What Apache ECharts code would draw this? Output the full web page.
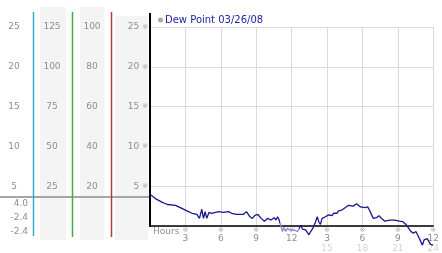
<!DOCTYPE html>
<html><head><meta charset="utf-8">
<script src="https://cdn.jsdelivr.net/npm/echarts@6/dist/echarts.min.js"></script>
<style>html,body{margin:0;padding:0;background:#fff}#c{width:442px;height:253px}</style>
</head><body><div id="c"></div>
<script>
const seriesName = 'Dew Point 03/26/08';
const hourTicks = [3, 6, 9, 12, 15, 18, 21, 24];
const hours = [0,0.5,1.0,1.47,2.17,3.0,3.56,3.97,4.19,4.39,4.53,4.67,4.81,5.0,5.22,5.36,5.83,6.22,6.64,6.92,7.33,7.89,8.17,8.44,8.67,8.86,9.14,9.42,9.69,9.97,10.25,10.53,10.67,10.81,10.94,11.08,11.22,11.36,11.5,11.64,11.83,11.94,12.22,12.5,12.78,12.92,13.19,13.47,13.61,13.83,14.03,14.17,14.31,14.44,14.58,14.72,14.86,15.0,15.14,15.42,15.56,15.83,15.97,16.25,16.53,16.81,16.94,17.22,17.5,17.64,17.83,17.94,18.22,18.44,18.56,18.78,18.92,19.06,19.19,19.39,19.56,19.67,19.89,20.03,20.31,20.72,21.14,21.42,21.69,21.83,22.11,22.33,22.53,22.67,22.81,23.08,23.22,23.5,23.64,23.78,23.92,24.0];
const dewPoint = [4.0,3.4,3.0,2.7,2.6,2.0,1.6,1.45,0.96,2.1,0.96,1.8,0.96,1.7,1.6,1.8,1.8,1.7,1.8,1.6,1.45,1.45,1.8,1.2,0.96,1.3,1.45,0.96,0.6,0.96,0.75,1.04,0.75,1.16,0.75,0.1,-0.7,-0.2,-0.7,-0.3,-0.5,-0.7,-0.5,-0.7,0.1,-0.4,-0.5,-1.1,-0.7,-0.2,0.54,1.16,0.5,0.2,0.96,0.75,1.16,1.04,1.4,1.3,1.6,1.6,1.9,2.0,2.3,2.6,2.4,2.5,2.8,2.6,2.4,2.2,2.3,2.4,2.1,1.4,0.96,1.16,1.04,1.3,1.04,1.16,0.6,0.75,0.75,0.75,0.6,0.54,0.2,0.04,-0.7,-0.9,-0.7,-1.1,-1.3,-2.4,-1.75,-1.6,-2.0,-2.3,-2.2,-2.4];
const col2Factor = 5, col3Factor = 4;

const data = hours.map((h, i) => [h, dewPoint[i]]);
const firstVal = dewPoint[0], minVal = Math.min(...dewPoint), lastVal = dewPoint[dewPoint.length - 1];
const FONT = 'DejaVu Sans';
const GRAY = '#8e8e8e';
const NAVY = '#17178f';

const chart = echarts.init(document.getElementById('c'), null, {renderer: 'canvas'});
const sideAxis = (offset, factor) => ({
  type: 'value', min: 0, max: 25, interval: 5, position: 'left', offset: offset,
  axisLine: {show: false}, axisTick: {show: false}, splitLine: {show: false},
  axisLabel: {margin: 0, align: 'center', color: GRAY, fontFamily: FONT, fontSize: 9,
    formatter: v => v === 0 ? '' : String(v * factor)}
});
chart.setOption({
  animation: false,
  textStyle: {fontFamily: FONT},
  grid: {left: 150, right: 4, top: 27, bottom: 27, containLabel: false},
  legend: {
    left: 158, top: 15, padding: 0, icon: 'circle', itemWidth: 5, itemHeight: 5,
    data: [{name: seriesName, itemStyle: {color: '#a8a8a8'}}],
    textStyle: {color: '#1c1ca0', fontSize: 10, fontFamily: FONT, padding: [0, 0, 0, -3]}
  },
  xAxis: {
    type: 'value', min: 0, max: 24, interval: 3,
    axisLine: {lineStyle: {color: '#000', width: 1.5}},
    axisTick: {show: false},
    splitLine: {lineStyle: {color: '#dadada', width: 1}},
    axisLabel: {
      margin: 1, color: GRAY, fontFamily: FONT, fontSize: 9,
      formatter: v => {
        if (v === 0 || hourTicks.indexOf(v) < 0) return '';
        const d = ((v - 1) % 12) + 1;
        let s = '{m|※}\n{a|' + d + '}';
        if (v > 12) s += '\n{b|' + v + '}';
        return s;
      },
      rich: {
        m: {fontSize: 7, color: '#a8a8a8', lineHeight: 7, fontFamily: FONT},
        a: {fontSize: 9, color: GRAY, lineHeight: 10, fontFamily: FONT},
        b: {fontSize: 9, color: '#d2d2d2', lineHeight: 9, fontFamily: FONT}
      }
    }
  },
  yAxis: [
    {
      type: 'value', min: 0, max: 25, interval: 5,
      axisLine: {show: true, lineStyle: {color: '#000', width: 2}},
      axisTick: {show: false},
      splitLine: {lineStyle: {color: '#dadada', width: 1}},
      axisLabel: {
        margin: 2, color: GRAY, fontFamily: FONT, fontSize: 9,
        formatter: v => v === 0 ? '' : '{v|' + v + '} {m|※}',
        rich: {v: {fontSize: 9, color: GRAY, fontFamily: FONT}, m: {fontSize: 7, color: '#a8a8a8', fontFamily: FONT}}
      }
    },
    sideAxis(136, 1),
    sideAxis(98, col2Factor),
    sideAxis(58, col3Factor)
  ],
  visualMap: {
    type: 'piecewise', show: false, dimension: 0, seriesIndex: 0,
    pieces: [{lt: 11.05, color: NAVY}, {gte: 11.05, lt: 12.65, color: '#8a8ad0'}, {gte: 12.65, color: NAVY}]
  },
  series: [{
    name: seriesName, type: 'line', data: data, yAxisIndex: 0,
    showSymbol: false, symbol: 'none', clip: false,
    lineStyle: {width: 1.3}
  }],
  graphic: [
    {type: 'rect', z: -10, shape: {x: 40, y: 7, width: 26, height: 233}, style: {fill: '#f4f4f4'}},
    {type: 'rect', z: -10, shape: {x: 80, y: 7, width: 24, height: 233}, style: {fill: '#f4f4f4'}},
    {type: 'rect', z: -10, shape: {x: 115, y: 16, width: 33, height: 224}, style: {fill: '#f4f4f4'}},
    {type: 'line', shape: {x1: 0, y1: 197, x2: 149, y2: 197}, style: {stroke: '#a6a6a6', lineWidth: 2}},
    {type: 'line', shape: {x1: 33.5, y1: 12, x2: 33.5, y2: 236}, style: {stroke: '#3aa8cf', lineWidth: 1.5}},
    {type: 'line', shape: {x1: 72.5, y1: 12, x2: 72.5, y2: 237}, style: {stroke: '#3caf3c', lineWidth: 1.5}},
    {type: 'line', shape: {x1: 111.5, y1: 12, x2: 111.5, y2: 237}, style: {stroke: '#b53a3a', lineWidth: 1.5}},
    {type: 'line', shape: {x1: 150, y1: 13, x2: 150, y2: 28}, style: {stroke: '#000', lineWidth: 2}},
    {type: 'text', x: 28, y: 204, style: {text: firstVal.toFixed(1), fill: GRAY, font: '9px ' + FONT, textAlign: 'right', textVerticalAlign: 'middle'}},
    {type: 'text', x: 28, y: 218, style: {text: minVal.toFixed(1), fill: GRAY, font: '9px ' + FONT, textAlign: 'right', textVerticalAlign: 'middle'}},
    {type: 'text', x: 28, y: 232, style: {text: lastVal.toFixed(1), fill: GRAY, font: '9px ' + FONT, textAlign: 'right', textVerticalAlign: 'middle'}},
    {type: 'text', x: 153, y: 232, style: {text: 'Hours', fill: GRAY, font: '9px ' + FONT, textAlign: 'left', textVerticalAlign: 'middle'}}
  ]
});
</script></body></html>
